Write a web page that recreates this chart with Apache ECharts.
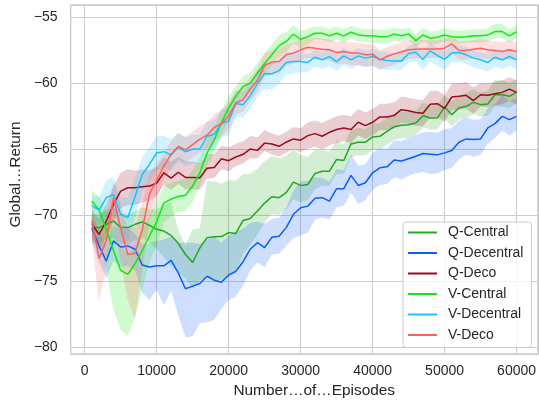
<!DOCTYPE html>
<html>
<head>
<meta charset="utf-8">
<script src="https://cdn.jsdelivr.net/npm/echarts@6/dist/echarts.min.js"></script>
<style>html,body{margin:0;padding:0;background:#fff}#c{width:539px;height:403px}</style>
</head>
<body>
<div id="c"></div>
<script>
const episodes = [1000,2000,3000,4000,5000,6000,7000,8000,9000,10000,
 11000,12000,13000,14000,15000,16000,17000,18000,19000,20000,
 21000,22000,23000,24000,25000,26000,27000,28000,29000,30000,
 31000,32000,33000,34000,35000,36000,37000,38000,39000,40000,
 41000,42000,43000,44000,45000,46000,47000,48000,49000,50000,
 51000,52000,53000,54000,55000,56000,57000,58000,59000,60000];

const seriesNames = ['Q-Central','Q-Decentral','Q-Deco','V-Central','V-Decentral','V-Deco'];

// Q-Central
const qCentralMean = [-70.96,-70.96,-70.71,-70.46,-70.96,-70.96,-70.71,-70.53,-70.79,-71.09,
 -71.22,-71.55,-72.15,-73.0,-73.61,-72.5,-71.72,-71.66,-71.64,-71.34,
 -71.4,-70.42,-70.27,-69.7,-69.1,-68.62,-68.69,-68.31,-67.51,-67.76,
 -67.69,-66.85,-66.68,-66.68,-65.79,-65.87,-64.61,-64.48,-64.48,-64.08,
 -64.03,-63.65,-63.3,-63.2,-63.15,-63.02,-62.47,-62.64,-62.64,-61.81,
 -62.39,-61.88,-61.76,-61.46,-61.63,-61.58,-60.88,-60.88,-61.0,-60.7];
const qCentralLow = [1.2,1.1,1.2,1.3,1.2,1.3,1.2,1.2,1.3,1.5,
 2.0,2.3,2.2,1.8,2.0,2.5,3.0,3.3,3.3,3.4,
 3.0,2.5,2.0,1.8,1.5,1.3,1.3,1.3,1.3,1.3,
 1.2,1.2,1.1,1.1,1.1,1.0,1.0,1.0,1.0,1.0,
 1.0,1.0,1.0,1.0,1.0,0.9,0.9,0.9,0.9,0.9,
 0.9,0.9,0.9,0.9,0.9,0.9,0.9,0.9,0.9,0.8];
const qCentralHigh = [1.0,1.0,1.1,1.0,1.1,1.0,1.0,1.1,1.2,1.5,
 2.0,2.5,1.0,0.7,2.5,1.5,4.3,4.2,4.0,4.0,
 4.0,3.5,3.4,3.2,3.2,3.1,3.0,2.8,2.5,2.3,
 2.1,1.8,1.6,1.5,1.4,1.2,1.1,1.1,1.0,1.0,
 1.0,1.0,1.0,1.0,1.0,0.9,1.0,0.9,1.0,0.9,
 1.0,0.9,1.0,1.0,0.9,1.0,1.1,1.1,1.0,1.0];

// Q-Decentral
const qDecentralMean = [-71.0,-72.35,-73.49,-71.97,-72.43,-72.35,-72.6,-73.8,-73.95,-73.86,
 -73.86,-73.45,-74.4,-75.6,-75.4,-75.2,-74.65,-74.95,-75.1,-74.55,
 -74.28,-73.55,-72.6,-72.1,-72.47,-71.7,-71.62,-70.96,-69.95,-69.45,
 -69.33,-68.74,-68.69,-68.95,-68.01,-68.01,-67.0,-67.76,-67.56,-66.8,
 -66.42,-66.35,-65.83,-65.9,-65.74,-65.54,-65.34,-65.39,-65.44,-65.29,
 -65.11,-64.48,-64.23,-64.28,-64.23,-63.4,-63.07,-62.52,-62.77,-62.52];
const qDecentralLow = [1.0,1.2,1.3,1.5,1.5,1.5,1.6,2.1,2.5,1.8,
 3.0,2.3,3.2,3.7,3.8,3.0,3.5,3.0,2.0,1.9,
 1.9,1.8,1.6,1.5,1.5,1.3,1.3,1.4,1.8,2.1,
 2.0,1.6,1.5,1.4,1.4,1.3,1.3,1.4,1.3,1.3,
 1.3,1.3,1.3,1.4,1.3,1.3,1.4,1.5,1.4,1.3,
 1.3,1.3,1.2,1.3,1.2,1.2,1.1,1.1,1.2,1.1];
const qDecentralHigh = [1.0,1.2,1.2,1.2,1.3,1.3,1.2,1.6,1.8,1.9,
 2.0,1.8,2.3,3.5,3.3,3.0,2.8,3.3,3.0,3.0,
 3.0,2.5,2.0,1.6,1.8,1.4,1.4,1.5,1.8,2.0,
 1.9,1.6,1.5,1.5,1.5,1.4,1.6,1.5,1.4,1.5,
 1.5,1.4,1.5,1.5,1.6,1.6,1.6,1.7,1.7,1.8,
 1.7,1.6,1.6,1.5,1.5,1.5,1.5,1.6,1.4,1.4];

// Q-Deco
const qDecoMean = [-70.71,-71.47,-70.46,-69.2,-68.19,-67.94,-67.94,-67.86,-67.81,-67.58,
 -66.8,-67.2,-66.76,-67.15,-67.15,-67.18,-66.46,-66.4,-65.73,-65.88,
 -65.6,-65.4,-65.0,-65.1,-64.55,-64.62,-64.79,-64.48,-64.23,-64.33,
 -63.98,-63.83,-64.03,-63.73,-63.52,-63.4,-63.52,-62.97,-63.22,-62.97,
 -62.56,-62.56,-62.45,-62.01,-62.1,-62.23,-62.28,-61.6,-61.56,-61.92,
 -61.05,-61.0,-60.92,-61.32,-60.88,-60.92,-60.8,-60.7,-60.45,-60.7];
const qDecoLow = [1.0,1.2,1.3,1.3,1.3,1.3,1.3,1.2,1.1,1.0,
 0.9,0.9,0.9,0.9,0.9,0.9,0.8,0.8,0.8,0.8,
 0.7,0.7,0.7,0.6,0.6,0.8,0.8,0.8,0.8,0.9,
 1.0,1.0,1.0,1.0,1.0,1.0,1.0,1.0,1.0,1.0,
 1.0,1.0,1.0,1.0,1.0,1.0,1.0,1.0,1.0,1.0,
 1.0,1.0,1.0,1.0,0.9,0.9,0.9,0.9,0.9,0.9];
const qDecoHigh = [1.0,1.2,1.3,1.4,1.4,1.4,1.3,1.3,1.2,1.2,
 1.2,1.2,1.2,1.2,1.2,1.1,1.1,1.0,1.0,1.0,
 1.0,1.0,1.0,1.0,1.0,0.8,0.8,0.8,0.9,0.9,
 1.0,1.0,1.0,1.0,1.0,1.0,1.0,1.0,1.0,1.0,
 1.0,1.0,1.0,1.0,1.0,1.0,1.0,1.0,1.0,1.0,
 1.0,1.0,1.0,1.0,0.9,0.9,0.9,0.9,0.9,0.9];

// V-Central
const vCentralMean = [-68.95,-69.6,-71.1,-72.7,-74.2,-74.5,-73.7,-72.7,-71.6,-70.5,
 -69.1,-68.8,-68.6,-68.5,-67.8,-66.8,-65.3,-64.3,-63.0,-61.9,
 -61.0,-60.25,-60.0,-59.25,-58.5,-57.85,-57.15,-56.84,-56.29,-56.67,
 -56.47,-56.21,-56.21,-56.41,-56.21,-56.41,-56.14,-56.34,-56.41,-56.41,
 -56.47,-56.47,-56.28,-56.41,-56.26,-56.77,-56.34,-56.59,-56.52,-56.34,
 -56.47,-56.52,-56.47,-56.41,-56.41,-56.34,-56.09,-56.09,-56.41,-56.09];
const vCentralLow = [1.5,2.5,3.0,4.5,4.5,4.7,4.0,3.0,2.0,1.8,
 1.5,1.3,1.2,1.2,1.2,1.0,1.0,1.0,0.9,0.9,
 0.8,0.8,0.8,0.8,0.8,0.8,0.8,0.8,0.7,0.7,
 0.6,0.5,0.5,0.5,0.5,0.5,0.5,0.5,0.5,0.5,
 0.5,0.5,0.5,0.5,0.5,0.5,0.5,0.5,0.5,0.5,
 0.5,0.5,0.5,0.5,0.5,0.5,0.5,0.5,0.5,0.5];
const vCentralHigh = [0.8,1.0,1.5,1.5,1.8,1.5,1.5,1.5,1.5,1.5,
 1.3,1.2,1.2,1.2,1.2,1.2,1.0,1.0,0.9,0.9,
 0.8,0.8,0.8,0.8,0.8,0.8,0.8,0.7,0.7,0.6,
 0.6,0.5,0.5,0.5,0.5,0.5,0.5,0.5,0.5,0.5,
 0.5,0.5,0.5,0.5,0.5,0.5,0.5,0.5,0.5,0.5,
 0.5,0.5,0.5,0.5,0.5,0.5,0.6,0.6,0.5,0.5];

// V-Decentral
const vDecentralMean = [-69.3,-69.63,-68.69,-68.44,-69.95,-70.2,-68.6,-66.93,-66.17,-65.3,
 -65.2,-65.45,-64.85,-65.2,-65.0,-65.0,-64.03,-63.88,-63.05,-62.88,
 -61.55,-61.63,-60.95,-60.05,-59.27,-59.3,-59.05,-58.43,-58.36,-58.36,
 -58.43,-58.03,-58.23,-57.98,-58.36,-57.93,-58.23,-57.93,-58.1,-57.98,
 -58.18,-58.28,-58.31,-58.31,-57.75,-57.65,-58.2,-57.55,-57.9,-58.2,
 -57.72,-57.68,-57.85,-58.1,-58.23,-58.43,-58.03,-58.23,-57.98,-58.23];
const vDecentralLow = [0.8,1.2,1.5,1.5,1.6,1.8,1.6,1.3,1.3,1.3,
 1.2,1.2,1.1,1.1,1.1,1.1,1.1,1.1,1.1,1.1,
 1.0,1.0,1.0,1.0,1.2,1.2,1.0,0.9,0.9,0.8,
 0.7,0.7,0.7,0.7,0.7,0.7,0.7,0.7,0.7,0.7,
 0.7,0.7,0.7,0.7,0.7,0.7,0.8,0.8,0.8,0.8,
 0.7,0.7,0.7,0.7,0.7,0.7,0.7,0.7,0.7,0.7];
const vDecentralHigh = [0.8,1.0,1.3,1.3,1.3,1.5,1.5,1.3,1.3,1.3,
 1.2,1.2,1.1,1.1,1.1,1.1,1.1,1.1,1.1,1.1,
 1.0,1.0,1.0,1.0,0.9,0.8,0.8,0.8,0.7,0.7,
 0.6,0.6,0.6,0.6,0.6,0.6,0.6,0.6,0.6,0.6,
 0.6,0.6,0.6,0.6,0.6,0.6,0.6,0.6,0.6,0.6,
 0.6,0.6,0.6,0.6,0.6,0.6,0.6,0.6,0.6,0.6];

// V-Deco
const vDecoMean = [-70.46,-73.3,-71.95,-68.7,-71.0,-73.0,-72.9,-71.1,-68.4,-67.4,
 -66.3,-65.4,-64.8,-65.06,-64.66,-64.25,-63.95,-63.35,-63.08,-62.5,
 -61.5,-61.26,-60.43,-59.8,-58.65,-58.4,-58.36,-57.85,-57.72,-57.47,
 -57.27,-57.35,-57.42,-57.47,-57.68,-57.6,-57.72,-57.72,-57.85,-57.8,
 -58.23,-57.98,-57.78,-57.62,-57.47,-57.42,-57.4,-57.4,-57.4,-57.35,
 -57.02,-57.52,-57.52,-57.42,-57.35,-57.47,-57.52,-57.6,-57.47,-57.6];
const vDecoLow = [1.5,3.3,2.0,2.0,2.5,3.5,5.0,3.0,2.0,1.5,
 1.0,1.0,1.0,1.0,1.0,1.0,1.0,1.0,1.0,1.0,
 0.9,0.9,0.9,0.9,0.9,0.9,0.9,0.8,0.8,0.8,
 0.8,0.8,0.8,0.8,0.9,0.9,0.9,0.9,0.9,0.9,
 0.8,0.8,0.8,0.8,0.7,0.7,0.7,0.7,0.7,0.7,
 0.7,0.7,0.7,0.7,0.7,0.7,0.7,0.7,0.7,0.7];
const vDecoHigh = [1.2,1.5,1.5,1.2,1.8,2.0,2.0,2.0,1.5,1.3,
 1.0,1.0,1.0,1.0,1.0,1.0,1.0,1.0,1.0,1.0,
 0.9,0.9,0.9,0.9,0.9,0.9,0.9,0.8,0.8,0.8,
 0.8,0.8,0.8,0.8,0.8,0.8,0.8,0.8,0.8,0.8,
 0.7,0.7,0.7,0.7,0.7,0.7,0.7,0.7,0.7,0.7,
 0.7,0.7,0.7,0.7,0.7,0.7,0.7,0.7,0.7,0.7];

const yTicks = [-80,-75,-70,-65,-60,-55];
const xTicks = [0,10000,20000,30000,40000,50000,60000];

const colors = ['#22a822','#0a5cff','#9b0a1e','#14e614','#14c4ff','#ff5f5f'];
const means = [qCentralMean,qDecentralMean,qDecoMean,vCentralMean,vDecentralMean,vDecoMean];
const lows = [qCentralLow,qDecentralLow,qDecoLow,vCentralLow,vDecentralLow,vDecoLow];
const highs = [qCentralHigh,qDecentralHigh,qDecoHigh,vCentralHigh,vDecentralHigh,vDecoHigh];

const FONT = "'Liberation Sans', Arial, sans-serif";
const TXT = '#262626';
const series = [];
for (let k = 0; k < 6; k++) {
  const kk = k;
  series.push({
    type: 'custom', name: seriesNames[k] + ' band', silent: true, z: 1,
    data: [[episodes[0], means[k][0]]],
    clip: true,
    renderItem: function (params, api) {
      const upper = [], lower = [];
      for (let i = 0; i < episodes.length; i++) {
        upper.push(api.coord([episodes[i], means[kk][i] + highs[kk][i]]));
        lower.push(api.coord([episodes[i], means[kk][i] - lows[kk][i]]));
      }
      const pts = upper.concat(lower.reverse());
      return { type: 'polygon', shape: { points: pts }, style: { fill: colors[kk], opacity: 0.2 } };
    }
  });
}
for (let k = 0; k < 6; k++) {
  series.push({
    type: 'line', name: seriesNames[k],
    data: episodes.map((x, i) => [x, means[k][i]]),
    symbol: 'none', color: colors[k],
    lineStyle: { color: colors[k], width: 1.5 },
    z: 2, emphasis: { disabled: true }
  });
}

const fmt = v => String(v).replace('-', '\u2212');

const chart = echarts.init(document.getElementById('c'), null, { renderer: 'canvas' });
chart.setOption({
  animation: false,
  backgroundColor: '#ffffff',
  textStyle: { fontFamily: FONT },
  grid: { left: 70, top: 5, width: 469, height: 350, show: true, borderColor: '#cccccc', borderWidth: 1.3, backgroundColor: '#ffffff' },
  xAxis: {
    type: 'value', min: -1950, max: 62950, splitNumber: 5,
    name: 'Number…of…Episodes', nameLocation: 'middle', nameGap: 29,
    nameTextStyle: { fontSize: 15.4, color: TXT, fontFamily: FONT, padding: [0, 0, 0, 20] },
    axisLine: { show: false }, axisTick: { show: false },
    axisLabel: { fontSize: 14, color: TXT, fontFamily: FONT, margin: 10, showMinLabel: false, showMaxLabel: false,
      formatter: v => xTicks.indexOf(v) >= 0 ? fmt(v) : '' },
    splitLine: { show: true, lineStyle: { color: '#cccccc', width: 1.1 } }
  },
  yAxis: {
    type: 'value', min: -80.55, max: -54.07, splitNumber: 5,
    name: 'Global…Return', nameLocation: 'middle', nameGap: 36,
    nameTextStyle: { fontSize: 15.4, color: TXT, fontFamily: FONT, padding: [0, 0, 0, 10] },
    axisLine: { show: false }, axisTick: { show: false },
    axisLabel: { fontSize: 14, color: TXT, fontFamily: FONT, margin: 13, showMinLabel: false, showMaxLabel: false,
      formatter: v => yTicks.indexOf(v) >= 0 ? fmt(v) : '' },
    splitLine: { show: true, lineStyle: { color: '#cccccc', width: 1.1 } }
  },
  legend: {
    data: seriesNames.map(n => ({ name: n, icon: 'rect' })),
    orient: 'vertical', left: 403, top: 222,
    itemWidth: 29, itemHeight: 2, itemGap: 5.5,
    padding: [3, 8, 5, 5],
    backgroundColor: 'rgba(255,255,255,0.8)', borderColor: '#cccccc', borderWidth: 1, borderRadius: 3,
    textStyle: { fontSize: 14, color: TXT, fontFamily: FONT, lineHeight: 15, padding: [0, 0, 0, 6] },
    selectedMode: false, z: 10
  },
  series: series
});
</script>
</body>
</html>
